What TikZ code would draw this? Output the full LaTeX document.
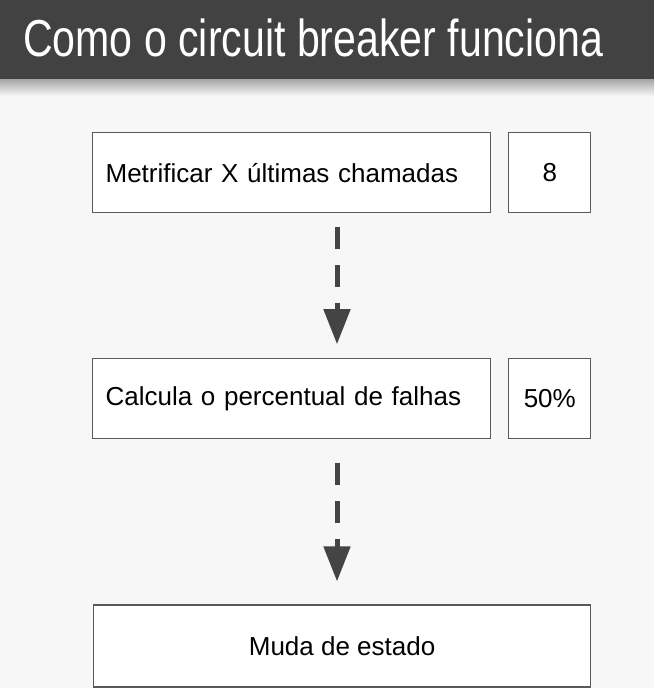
\documentclass[tikz,border=0pt]{standalone}
\usepackage{graphicx}
\usepackage{fontspec}
\setmainfont{Liberation Sans}
\usetikzlibrary{positioning,arrows.meta}
\definecolor{barcolor}{HTML}{424242}
\definecolor{pagecolor}{HTML}{F7F7F7}
\definecolor{linecolor}{HTML}{5A5A5A}
\definecolor{arrowcolor}{HTML}{444444}
\tikzset{
  font=\fontsize{26}{30}\selectfont
}

\begin{document}
\begin{tikzpicture}[box/.style={rectangle,draw=linecolor,line width=1.2pt,fill=white,minimum height=80pt,inner xsep=13pt},
  stage/.style={box,text width=372pt,align=left},
  value/.style={box,minimum width=82pt,inner xsep=0pt},
  flow/.style={arrowcolor,line width=5pt,dash pattern=on 22pt off 16pt,-{Triangle[width=26pt,length=35pt]}}]
\useasboundingbox (0,0) rectangle (654pt,-688pt);
\fill[pagecolor] (0,0) rectangle (654pt,-688pt);
\shade[top color=black!35,bottom color=pagecolor] (0,-79pt) rectangle (654pt,-96pt);
\fill[barcolor] (0,0) rectangle (654pt,-79pt);
\node[anchor=base west,inner sep=0pt,text=white,font=\fontsize{52}{60}\selectfont] (title) at (23pt,-56pt) {\scalebox{0.79}[1]{Como o circuit breaker funciona}};
\node[stage,anchor=north west] (calls) at (92pt,-132pt) {Metrificar X últimas chamadas};
\node[value] (count) [right=17pt of calls] {8};
\node[stage] (rate) [below=145pt of calls] {Calcula o percentual de falhas};
\node[value] (percent) [right=17pt of rate] {50\%};
\node[box,minimum width=497pt,minimum height=82pt] (state) [below=165pt of rate.south west,anchor=north west,xshift=1pt] {Muda de estado};
\draw[flow,shorten <=14pt,shorten >=14pt] ([xshift=245pt]calls.south west) -- ([xshift=245pt]rate.north west);
\draw[flow,shorten <=24pt,shorten >=23pt] ([xshift=245pt]rate.south west) -- ([xshift=244pt]state.north west);
\end{tikzpicture}
\end{document}
